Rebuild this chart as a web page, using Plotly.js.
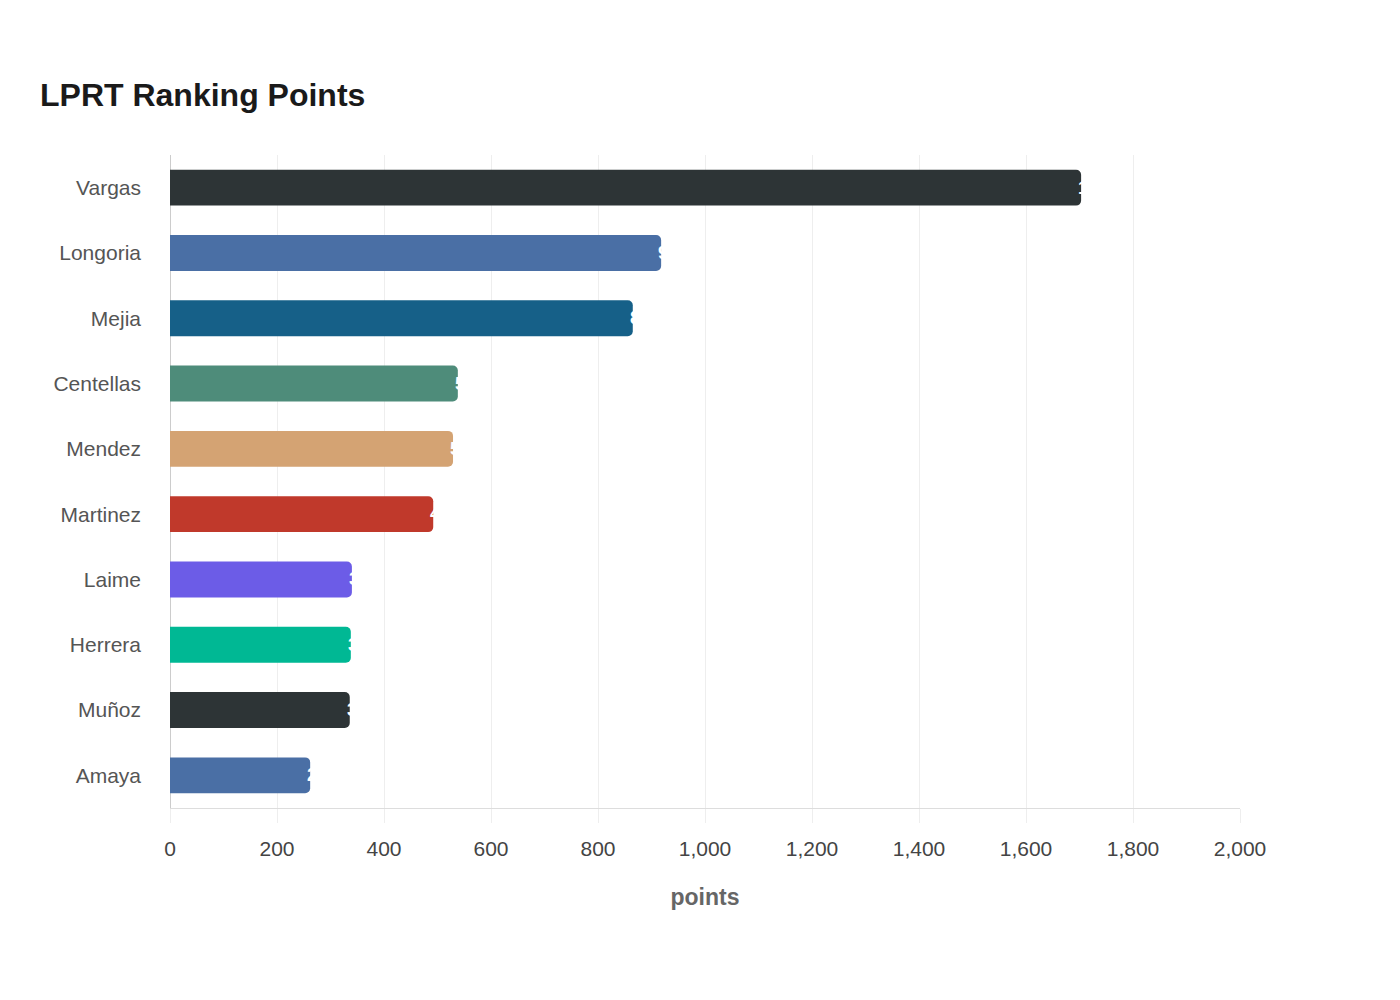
<!DOCTYPE html>
<html><head><meta charset="utf-8">
<script src="https://cdn.plot.ly/plotly-3.0.1.min.js"></script>
<style>body{margin:0;background:#fff}</style>
</head><body>
<div id="chart" style="width:1400px;height:1000px"></div>
<script>
const players = ["Vargas","Longoria","Mejia","Centellas","Mendez","Martinez","Laime","Herrera","Muñoz","Amaya"];
const points = [1703, 918, 865, 538, 529, 492, 340, 338, 336, 262];
const colors = ["#2d3436","#4a6fa5","#166088","#4e8c7a","#d4a373","#c0392b","#6c5ce7","#00b894","#2d3436","#4a6fa5"];
const xTicks = [0,200,400,600,800,1000,1200,1400,1600,1800,2000];

const trace = {
  type: "bar",
  orientation: "h",
  y: players,
  x: points,
  marker: {color: colors, cornerradius: 5},
  hoverinfo: "x+y"
};
// value labels: white text starting just inside the bar end
const labels = players.map((p, i) => ({
  x: points[i], y: p, xref: "x", yref: "y",
  text: "<b>" + points[i].toLocaleString("en-US") + "</b>",
  xanchor: "left", yanchor: "middle", xshift: -4, borderpad: 0,
  showarrow: false,
  font: {color: "#ffffff", size: 18, family: "Liberation Sans, Arial, sans-serif"}
}));
const layout = {
  width: 1400, height: 1000,
  paper_bgcolor: "#ffffff", plot_bgcolor: "#ffffff",
  margin: {l: 170, r: 160, t: 155, b: 192},
  title: {text: "<b>LPRT Ranking Points</b>", x: 40/1400, xref: "container", xanchor: "left", y: 0.905, yanchor: "middle",
    font: {family: "Liberation Sans, Arial, sans-serif", size: 32, color: "#1a1a1a"}},
  bargap: 0.45,
  font: {family: "Liberation Sans, Arial, sans-serif", color: "#555"},
  annotations: labels,
  xaxis: {
    range: [0, 2000], tickvals: xTicks, ticktext: xTicks.map(v => v.toLocaleString("en-US")),
    showgrid: true, gridcolor: "#eeeeee", gridwidth: 1,
    zeroline: true, zerolinecolor: "#cccccc", zerolinewidth: 1,
    showline: true, linecolor: "#dddddd", linewidth: 1,
    ticks: "outside", ticklen: 14, tickcolor: "#eeeeee",
    ticklabelstandoff: 8,
    tickfont: {size: 21, color: "#444"},
    title: {text: "<b>points</b>", font: {size: 23, color: "#666"}, standoff: 29}
  },
  yaxis: {
    autorange: "reversed", showgrid: false, zeroline: false, showline: false,
    ticks: "", ticklabelstandoff: 28,
    tickfont: {size: 21, color: "#555"}
  },
  showlegend: false
};
Plotly.newPlot("chart", [trace], layout, {displayModeBar: false});
</script>
</body></html>
